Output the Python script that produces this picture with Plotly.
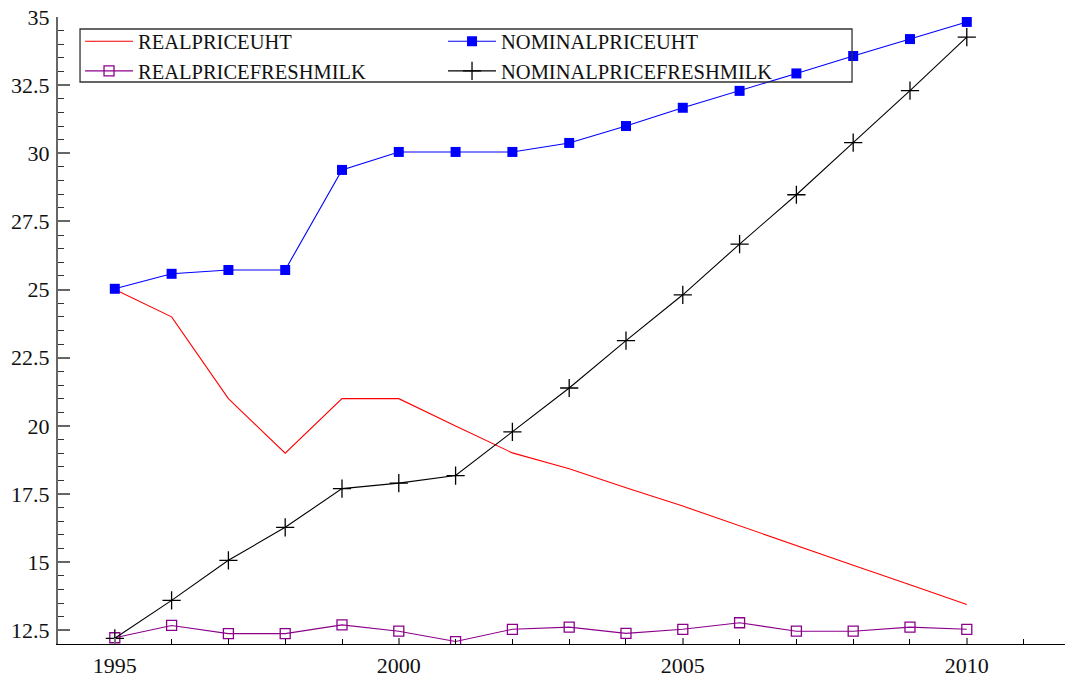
import plotly.graph_objects as go

years = list(range(1995, 2011))

real_price_uht = [25.0, 24.0, 21.0, 19.0, 21.0, 21.0, 20.0, 19.01, 18.43, 17.73,
                  17.06, 16.33, 15.61, 14.89, 14.17, 13.45]
nominal_price_uht = [25.03, 25.58, 25.72, 25.72, 29.39, 30.05, 30.05, 30.05, 30.38, 31.0,
                     31.67, 32.29, 32.93, 33.57, 34.19, 34.82]
real_price_freshmilk = [12.23, 12.68, 12.38, 12.38, 12.70, 12.47, 12.09, 12.54, 12.62, 12.39,
                        12.54, 12.78, 12.47, 12.47, 12.62, 12.54]
nominal_price_freshmilk = [12.21, 13.6, 15.07, 16.28, 17.7, 17.9, 18.18, 19.78, 21.39, 23.13,
                           24.81, 26.67, 28.48, 30.39, 32.3, 34.26]

y_tick_vals = [12.5, 15, 17.5, 20, 22.5, 25, 27.5, 30, 32.5, 35]
y_tick_text = ["12.5", "15", "17.5", "20", "22.5", "25", "27.5", "30", "32.5", "35"]
x_tick_vals = [1995, 2000, 2005, 2010]
x_tick_text = ["1995", "2000", "2005", "2010"]

FONT = "Liberation Serif"

fig = go.Figure()
fig.add_trace(go.Scatter(
    x=years, y=real_price_uht, name="REALPRICEUHT", mode="lines",
    line=dict(color="#ff0000", width=1.1)))
fig.add_trace(go.Scatter(
    x=years, y=nominal_price_uht, name="NOMINALPRICEUHT", mode="lines+markers",
    line=dict(color="#0000ff", width=1.1),
    marker=dict(symbol="square", size=10, color="#0000ff")))
fig.add_trace(go.Scatter(
    x=years, y=real_price_freshmilk, name="REALPRICEFRESHMILK", mode="lines+markers",
    line=dict(color="#8b008b", width=1.1),
    marker=dict(symbol="square-open", size=10, color="#8b008b", line=dict(width=1.3))))
fig.add_trace(go.Scatter(
    x=years, y=nominal_price_freshmilk, name="NOMINALPRICEFRESHMILK", mode="lines+markers",
    line=dict(color="#000000", width=1.1),
    marker=dict(symbol="cross-thin", size=13, color="#000000", line=dict(width=1.3, color="#000000"))))

# legend frame (drawn as a paper-coordinate rectangle)
fig.add_shape(type="rect", xref="paper", yref="paper",
              x0=0.0217, x1=0.7823, y0=0.8963, y1=0.9809,
              line=dict(color="#333333", width=1.3), fillcolor="rgba(0,0,0,0)", layer="above")

fig.update_layout(
    width=1065, height=671,
    margin=dict(l=50, r=0, t=9, b=35, autoexpand=False),
    paper_bgcolor="white", plot_bgcolor="white",
    font=dict(family=FONT, size=22, color="#111111"),
    showlegend=True,
    legend=dict(
        orientation="h", x=0.0217, y=0.993, xanchor="left", yanchor="top",
        entrywidth=300, entrywidthmode="pixels", itemwidth=48,
        bgcolor="rgba(0,0,0,0)", borderwidth=0,
        font=dict(family=FONT, size=20.5, color="#111111"),
        traceorder="normal",
    ),
    xaxis=dict(
        range=[1994, 2011.87], showgrid=False, zeroline=False, automargin=False,
        showline=True, linecolor="#000000", linewidth=1.3,
        tickmode="array", tickvals=x_tick_vals, ticktext=x_tick_text,
        ticks="inside", ticklen=6, tickwidth=2, tickcolor="#777777",
        ticklabelstandoff=1, ticklabeloverflow="allow",
        minor=dict(dtick=1, tick0=1994, ticks="inside", ticklen=5, tickwidth=1.3, tickcolor="#000000"),
        tickfont=dict(family=FONT, size=22, color="#111111"),
    ),
    yaxis=dict(
        range=[12, 35], showgrid=False, zeroline=False, automargin=False,
        showline=True, linecolor="#666666", linewidth=2,
        tickmode="array", tickvals=y_tick_vals, ticktext=y_tick_text,
        ticks="inside", ticklen=12, tickwidth=2, tickcolor="#666666",
        ticklabelstandoff=2, ticklabeloverflow="allow",
        minor=dict(dtick=0.5, tick0=12, ticks="inside", ticklen=6, tickwidth=1.3, tickcolor="#333333"),
        tickfont=dict(family=FONT, size=22, color="#111111"),
    ),
)

fig.write_html("out.html")
